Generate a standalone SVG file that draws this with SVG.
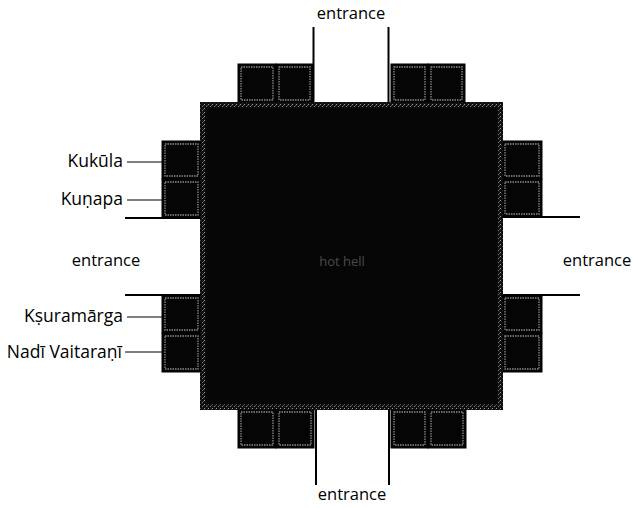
<svg xmlns="http://www.w3.org/2000/svg" width="633" height="508" viewBox="0 0 633 508">
<style>
  .lbl{font-family:"Open Sans","Noto Sans",sans-serif;font-size:16.5px;fill:#000}
  .side{font-size:17.5px}
  .sq{fill:#050505;stroke:#000;stroke-width:1}
  .sqin{fill:none;stroke:#8a8a8a;stroke-width:1.3;stroke-dasharray:1.5 1}
  .wall{stroke:#000;stroke-width:2;fill:none}
  .lead{stroke:#000;stroke-width:1.2;fill:none}
</style>
<defs>
  <pattern id="speck" width="4" height="4" patternUnits="userSpaceOnUse">
    <rect width="4" height="4" fill="#111"/>
    <rect x="0" y="0" width="1" height="1" fill="#999"/>
    <rect x="2" y="2" width="1" height="1" fill="#777"/>
    <rect x="3" y="1" width="1" height="1" fill="#555"/>
  </pattern>
</defs>
<rect width="633" height="508" fill="#fff"/>

<g id="hot-hell">
  <rect x="200" y="102" width="303" height="308" fill="#060606"/>
  <rect x="203" y="105" width="297" height="302" fill="none" stroke="url(#speck)" stroke-width="5"/>
  <text x="342" y="266" text-anchor="middle" style="font-family:'Open Sans','Noto Sans',sans-serif;font-size:13px;fill:#4a4a4a">hot hell</text>
</g>

<g id="top-squares">
  <rect class="sq" x="238" y="64" width="38" height="38"/><rect class="sqin" x="241" y="67" width="32" height="33"/>
  <rect class="sq" x="276" y="64" width="37" height="38"/><rect class="sqin" x="279" y="67" width="31" height="33"/>
  <rect class="sq" x="391" y="64" width="37" height="38"/><rect class="sqin" x="394" y="67" width="31" height="33"/>
  <rect class="sq" x="428" y="64" width="37" height="38"/><rect class="sqin" x="431" y="67" width="31" height="33"/>
</g>
<g id="bottom-squares">
  <rect class="sq" x="238" y="410" width="38" height="38"/><rect class="sqin" x="241" y="412" width="32" height="33"/>
  <rect class="sq" x="276" y="410" width="38" height="38"/><rect class="sqin" x="279" y="412" width="32" height="33"/>
  <rect class="sq" x="391" y="410" width="37" height="38"/><rect class="sqin" x="394" y="412" width="31" height="33"/>
  <rect class="sq" x="428" y="410" width="38" height="38"/><rect class="sqin" x="431" y="412" width="32" height="33"/>
</g>
<g id="kukula">
  <rect class="sq" x="162" y="141" width="38" height="38"/><rect class="sqin" x="165" y="144" width="33" height="32"/>
  <text class="lbl side" x="123" y="167" text-anchor="end">Kukūla</text>
</g>
<g id="kunapa">
  <rect class="sq" x="162" y="179" width="38" height="39"/><rect class="sqin" x="165" y="182" width="33" height="33"/>
  <text class="lbl side" x="123" y="205" text-anchor="end">Kuṇapa</text>
</g>
<g id="ksuramarga">
  <rect class="sq" x="162" y="295" width="38" height="38"/><rect class="sqin" x="165" y="298" width="33" height="32"/>
  <text class="lbl side" x="123" y="322" text-anchor="end">Kṣuramārga</text>
</g>
<g id="nadi-vaitarani">
  <rect class="sq" x="162" y="333" width="38" height="39"/><rect class="sqin" x="165" y="336" width="33" height="33"/>
  <text class="lbl side" x="122" y="358" text-anchor="end">Nadī Vaitaraṇī</text>
</g>
<g id="right-squares">
  <rect class="sq" x="503" y="141" width="39" height="38"/><rect class="sqin" x="505" y="144" width="34" height="32"/>
  <rect class="sq" x="503" y="179" width="39" height="38"/><rect class="sqin" x="505" y="182" width="34" height="32"/>
  <rect class="sq" x="503" y="295" width="39" height="38"/><rect class="sqin" x="505" y="298" width="34" height="32"/>
  <rect class="sq" x="503" y="333" width="39" height="39"/><rect class="sqin" x="505" y="336" width="34" height="33"/>
</g>

<g id="connectors">
  <line class="lead" x1="127" y1="162" x2="162" y2="162"/>
  <line class="lead" x1="127" y1="200" x2="162" y2="200"/>
  <line class="lead" x1="127" y1="317" x2="162" y2="317"/>
  <line class="lead" x1="125" y1="352" x2="162" y2="352"/>
  <line class="wall" x1="313.5" y1="27" x2="313.5" y2="102"/>
  <line class="wall" x1="388.5" y1="27" x2="388.5" y2="102"/>
  <line class="wall" x1="316" y1="410" x2="316" y2="485"/>
  <line class="wall" x1="389" y1="410" x2="389" y2="485"/>
  <line class="wall" x1="125" y1="218" x2="200" y2="218"/>
  <line class="wall" x1="125" y1="295" x2="200" y2="295"/>
  <line class="wall" x1="503" y1="217" x2="580" y2="217"/>
  <line class="wall" x1="503" y1="295" x2="580" y2="295"/>
</g>

<g id="entrance-labels">
  <text class="lbl" x="351" y="19" text-anchor="middle">entrance</text>
  <text class="lbl" x="352" y="500" text-anchor="middle">entrance</text>
  <text class="lbl" x="106" y="266" text-anchor="middle">entrance</text>
  <text class="lbl" x="597" y="266" text-anchor="middle">entrance</text>
</g>
</svg>
